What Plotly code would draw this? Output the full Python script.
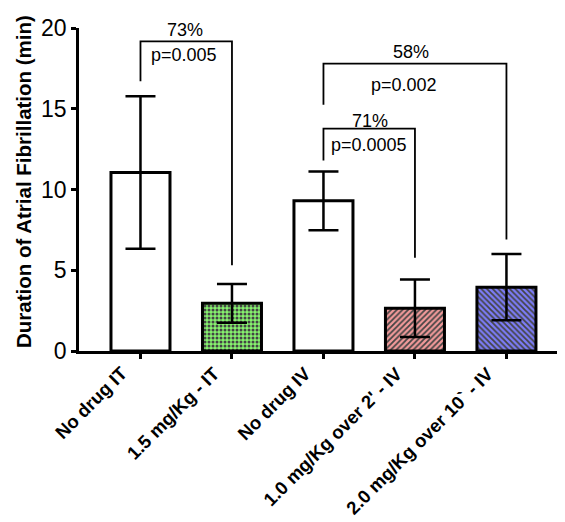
import plotly.graph_objects as go

categories = ["No drug IT", "1.5 mg/Kg - IT", "No drug IV", "1.0 mg/Kg over 2' - IV", "2.0 mg/Kg over 10` - IV"]
means = [11.05, 2.95, 9.3, 2.65, 3.95]
errors = [4.72, 1.2, 1.82, 1.78, 2.05]

fill_bg = ["white", "#86f26e", "white", "#f29a9a", "#7c7cf8"]
fill_fg = ["white", "#46b83a", "white", "#c02c2c", "#16169a"]
fill_shape = ["", ".", "", "/", "\\"]

# comparisons: (left group, right group, left end, top, right end)
cmp_left = [0, 2, 2]
cmp_right = [1, 3, 4]
cmp_left_end = [16.7, 11.8, 15.25]
cmp_top = [19.17, 13.77, 17.79]
cmp_right_end = [5.31, 5.78, 6.91]
cmp_pct = ["73%", "71%", "58%"]
cmp_p = ["p=0.005", "p=0.0005", "p=0.002"]
pct_x = [0.487, 2.51, 2.96]
pct_y = [19.9, 14.27, 18.5]
p_x = [0.475, 2.5, 2.88]
p_y = [18.3, 12.77, 16.5]

y_ticks = [0, 5, 10, 15, 20]
y_title = "Duration of Atrial Fibrillation (min)"

FONT = "Liberation Sans, Arial"
idx = list(range(len(categories)))

fig = go.Figure()
fig.add_trace(go.Bar(
    x=idx, y=means, width=0.645,
    marker=dict(
        color=fill_bg,
        line=dict(color="black", width=3),
        pattern=dict(shape=fill_shape, fgcolor=fill_fg, bgcolor=fill_bg, fgopacity=1,
                     size=4, solidity=0.45, fillmode="overlay"),
    ),
    error_y=dict(type="data", array=errors, visible=True, color="black",
                 thickness=2.5, width=15),
    showlegend=False,
))

for i in range(len(cmp_left)):
    fig.add_trace(go.Scatter(
        x=[cmp_left[i], cmp_left[i], cmp_right[i], cmp_right[i]],
        y=[cmp_left_end[i], cmp_top[i], cmp_top[i], cmp_right_end[i]],
        mode="lines", line=dict(color="black", width=1.8),
        showlegend=False, hoverinfo="skip", cliponaxis=False,
    ))
    fig.add_annotation(x=pct_x[i], y=pct_y[i], text=cmp_pct[i], showarrow=False,
                       font=dict(family=FONT, size=18, color="black"))
    fig.add_annotation(x=p_x[i], y=p_y[i], text=cmp_p[i], showarrow=False,
                       font=dict(family=FONT, size=18, color="black"))

# rotated category labels
for i, c in enumerate(categories):
    fig.add_annotation(x=i, xref="x", y=-0.033, yref="paper", text="<b>" + c + "</b>",
                       textangle=-45, showarrow=False, xanchor="right", yanchor="top",
                       xshift=-6, yshift=2, font=dict(family=FONT, size=18.5, color="black"))

fig.add_annotation(xref="paper", yref="paper", x=-0.114, y=0.525, text="<b>" + y_title + "</b>",
                   textangle=-90, showarrow=False, xanchor="center", yanchor="middle",
                   font=dict(family=FONT, size=20.5, color="black"))

fig.update_layout(
    width=565, height=522,
    margin=dict(l=70.5, r=8, t=20, b=179, autoexpand=False),
    plot_bgcolor="white", paper_bgcolor="white",
    font=dict(family=FONT, color="black"),
    xaxis=dict(
        range=[-0.672, 4.64], tickvals=idx, showticklabels=False,
        showline=True, linecolor="black", linewidth=2.5,
        ticks="outside", ticklen=5, tickwidth=2.5, tickcolor="black",
        showgrid=False, zeroline=False,
    ),
    yaxis=dict(
        range=[0, 20], tickvals=y_ticks,
        tickfont=dict(size=23, color="black"),
        showline=True, linecolor="black", linewidth=2.5,
        ticks="outside", ticklen=5, tickwidth=2.5, tickcolor="black",
        showgrid=False, zeroline=False,
    ),
)

fig.write_html("out.html")
